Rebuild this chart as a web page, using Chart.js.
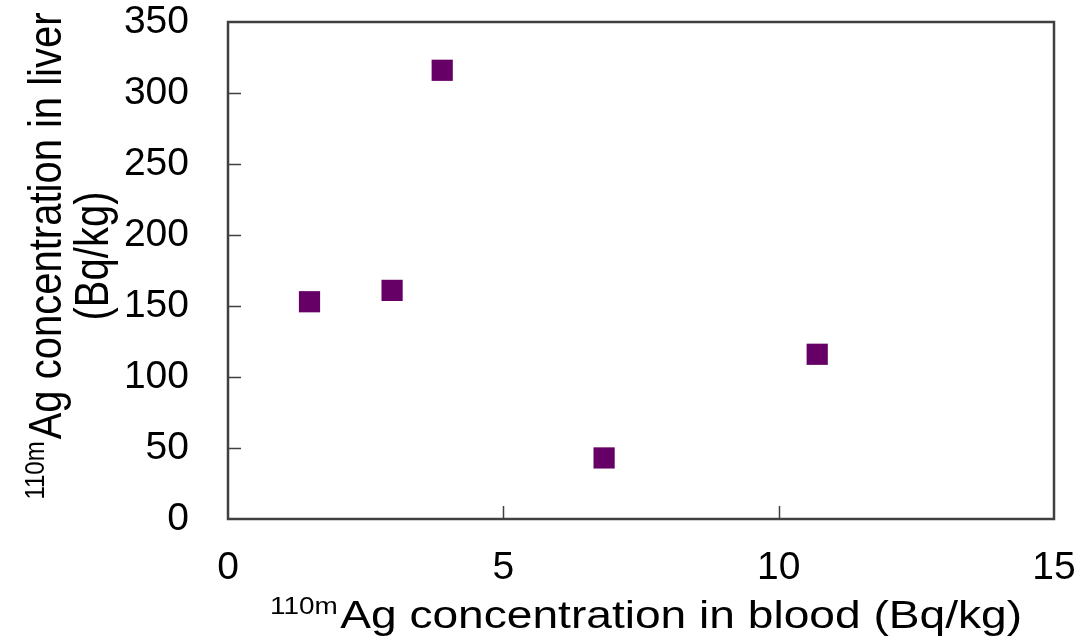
<!DOCTYPE html>
<html>
<head>
<meta charset="utf-8">
<script src="https://cdn.jsdelivr.net/npm/chart.js@4.4.1/dist/chart.umd.min.js"></script>
<style>
  html, body { margin: 0; padding: 0; background: #ffffff; }
  #wrap { width: 1087px; height: 640px; position: relative; }
</style>
</head>
<body>
<div id="wrap"><canvas id="c"></canvas></div>
<script>
// Data
const bloodValues = [1.48, 2.98, 3.89, 6.83, 10.70];   // 110mAg in blood (Bq/kg)
const liverValues = [153, 161, 316, 43, 116];          // 110mAg in liver (Bq/kg)
const xTicks = [0, 5, 10, 15];
const yTicks = [0, 50, 100, 150, 200, 250, 300, 350];
const xTitleSup = '110m';
const xTitleMain = 'Ag concentration in blood (Bq/kg)';
const yTitleSup = '110m';
const yTitleMain = 'Ag concentration in liver';
const yTitleLine2 = '(Bq/kg)';

const FONT = '"Liberation Sans", Arial, sans-serif';
const AXIS_COLOR = '#404040';

const points = bloodValues.map((x, i) => ({ x: x, y: liverValues[i] }));

const framePlugin = {
  id: 'frameAndTitles',
  afterDraw(chart) {
    const ctx = chart.ctx;
    const a = chart.chartArea;
    const xs = chart.scales.x, ys = chart.scales.y;
    ctx.save();
    // inward tick marks
    ctx.strokeStyle = AXIS_COLOR;
    ctx.lineWidth = 1.5;
    ctx.beginPath();
    yTicks.forEach(v => {
      if (v === yTicks[0] || v === yTicks[yTicks.length - 1]) return;
      const p = Math.round(ys.getPixelForValue(v)) + 0.5;
      ctx.moveTo(a.left, p); ctx.lineTo(a.left + 13, p);
    });
    xTicks.forEach(v => {
      if (v === xTicks[0] || v === xTicks[xTicks.length - 1]) return;
      const p = Math.round(xs.getPixelForValue(v)) + 0.5;
      ctx.moveTo(p, a.bottom); ctx.lineTo(p, a.bottom - 13);
    });
    ctx.stroke();
    // frame
    ctx.lineWidth = 2.5;
    ctx.strokeStyle = AXIS_COLOR;
    ctx.strokeRect(a.left, a.top, a.right - a.left, a.bottom - a.top);

    // X axis title (with superscript)
    ctx.fillStyle = '#000';
    ctx.textBaseline = 'alphabetic';
    ctx.textAlign = 'left';
    ctx.font = '23px ' + FONT;
    const supW = ctx.measureText(xTitleSup).width;
    ctx.font = '38px ' + FONT;
    const mainW = ctx.measureText(xTitleMain).width;
    const xStart = 270, xEnd = 1022;
    const sx = (xEnd - xStart) / (supW + mainW + 2);
    ctx.save();
    ctx.translate(xStart, 0);
    ctx.scale(sx, 1);
    ctx.font = '23px ' + FONT;
    ctx.fillText(xTitleSup, 0, 614);
    ctx.font = '38px ' + FONT;
    ctx.fillText(xTitleMain, supW + 2, 628);
    ctx.restore();

    // Y axis title (two rotated lines)
    const centerY = 256;
    ctx.save();
    ctx.translate(61, centerY);
    ctx.rotate(-Math.PI / 2);
    ctx.scale(1, 1.15);
    ctx.font = '24px ' + FONT;
    const ySupW = ctx.measureText(yTitleSup).width;
    ctx.font = '40px ' + FONT;
    const yMainW = ctx.measureText(yTitleMain).width;
    const W = ySupW + yMainW + 2;
    ctx.font = '24px ' + FONT;
    ctx.fillText(yTitleSup, -W / 2, -15);
    ctx.font = '40px ' + FONT;
    ctx.fillText(yTitleMain, -W / 2 + ySupW + 2, 0);
    ctx.restore();

    ctx.save();
    ctx.translate(108, centerY);
    ctx.rotate(-Math.PI / 2);
    ctx.scale(1, 1.2);
    ctx.font = '40px ' + FONT;
    ctx.textAlign = 'center';
    ctx.fillText(yTitleLine2, 0, 0);
    ctx.restore();

    ctx.restore();
  }
};

function zeroPad(s) {
  s.paddingTop = 0; s.paddingBottom = 0; s.paddingLeft = 0; s.paddingRight = 0;
}

new Chart(document.getElementById('c'), {
  type: 'scatter',
  data: {
    datasets: [{
      data: points,
      pointStyle: 'rect',
      pointRadius: 15,
      pointHoverRadius: 15,
      backgroundColor: '#660066',
      borderColor: '#660066',
      borderWidth: 0
    }]
  },
  options: {
    responsive: true,
    maintainAspectRatio: false,
    devicePixelRatio: 1,
    animation: false,
    events: [],
    layout: { padding: { top: 22, right: 33, left: 0, bottom: 0 } },
    plugins: {
      legend: { display: false },
      tooltip: { enabled: false },
      title: { display: false }
    },
    scales: {
      x: {
        type: 'linear',
        min: 0, max: 15,
        afterBuildTicks: (s) => { s.ticks = xTicks.map(v => ({ value: v })); },
        afterFit: (s) => { s.height = 121; zeroPad(s); },
        grid: { display: false, drawTicks: false },
        border: { display: false },
        ticks: {
          color: '#000',
          font: { family: FONT, size: 39 },
          padding: 26,
          maxRotation: 0
        }
      },
      y: {
        type: 'linear',
        min: 0, max: 350,
        afterBuildTicks: (s) => { s.ticks = yTicks.map(v => ({ value: v })); },
        afterFit: (s) => { s.width = 228; zeroPad(s); },
        grid: { display: false, drawTicks: false },
        border: { display: false },
        ticks: {
          color: '#000',
          font: { family: FONT, size: 39 },
          padding: 39
        }
      }
    }
  },
  plugins: [framePlugin]
});
</script>
</body>
</html>
